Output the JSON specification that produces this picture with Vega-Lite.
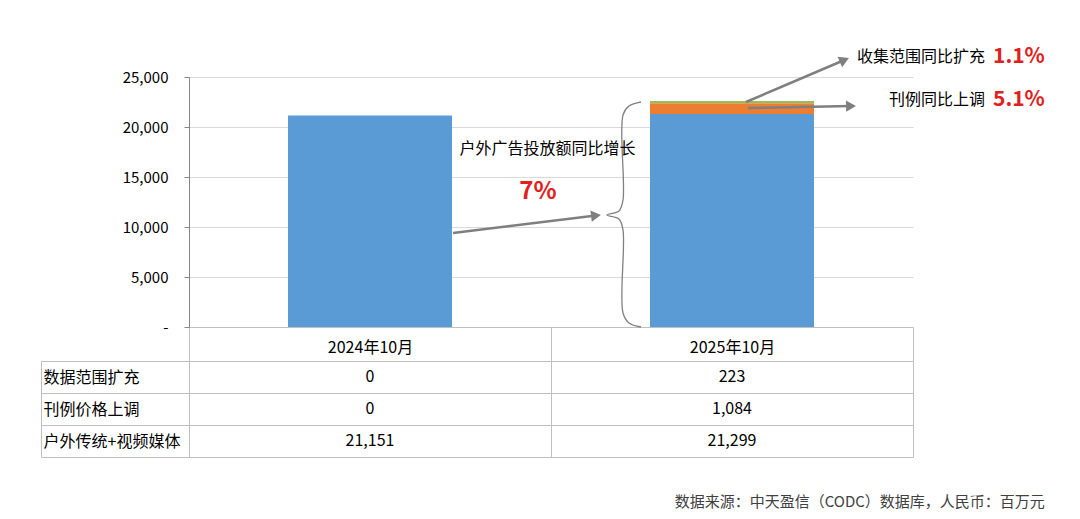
{
  "$schema": "https://vega.github.io/schema/vega-lite/v6.json",
  "autosize": {"type": "pad"},
  "padding": {"left": 40, "top": 45, "right": 5, "bottom": 5},
  "background": "white",
  "bounds": "flush",
  "spacing": 34,
  "config": {"font": "Noto Sans CJK SC", "view": {"stroke": null}},
  "title": {"text": "数据来源：中天盈信（CODC）数据库，人民币：百万元", "orient": "bottom", "anchor": "end", "fontSize": 15, "fontWeight": "normal", "color": "#404040", "offset": 37, "baseline": "top"},
  "datasets": {
    "bars": [
      {"period": "2024年10月", "series": "户外传统+视频媒体", "value": 21151},
      {"period": "2024年10月", "series": "刊例价格上调", "value": 0},
      {"period": "2024年10月", "series": "数据范围扩充", "value": 0},
      {"period": "2025年10月", "series": "户外传统+视频媒体", "value": 21299},
      {"period": "2025年10月", "series": "刊例价格上调", "value": 1084},
      {"period": "2025年10月", "series": "数据范围扩充", "value": 223}
    ],
    "notes": [
      {"kind": "r", "text": "收集范围同比扩充", "pos": 2.199, "val": 27000},
      {"kind": "r", "text": "刊例同比上调", "pos": 2.199, "val": 22700},
      {"kind": "p", "text": "1.1%", "pos": 2.221, "val": 27000},
      {"kind": "p", "text": "5.1%", "pos": 2.221, "val": 22700},
      {"kind": "c", "text": "户外广告投放额同比增长", "pos": 0.9903, "val": 17800},
      {"kind": "b", "text": "7%", "pos": 0.9641, "val": 13500}
    ],
    "lines": [
      {"shape": "brace", "seq": 1, "pos": 1.2486, "val": 22500},
      {"shape": "brace", "seq": 2, "pos": 1.2155, "val": 22100},
      {"shape": "brace", "seq": 3, "pos": 1.1989, "val": 21200},
      {"shape": "brace", "seq": 4, "pos": 1.1989, "val": 12700},
      {"shape": "brace", "seq": 5, "pos": 1.1878, "val": 11600},
      {"shape": "brace", "seq": 6, "pos": 1.1547, "val": 11200},
      {"shape": "brace", "seq": 7, "pos": 1.1878, "val": 10800},
      {"shape": "brace", "seq": 8, "pos": 1.1989, "val": 9700},
      {"shape": "brace", "seq": 9, "pos": 1.1989, "val": 1400},
      {"shape": "brace", "seq": 10, "pos": 1.2155, "val": 400},
      {"shape": "brace", "seq": 11, "pos": 1.2486, "val": 0},
      {"shape": "a1", "seq": 1, "pos": 1.5387, "val": 22500},
      {"shape": "a1", "seq": 2, "pos": 1.8105, "val": 26700},
      {"shape": "a2", "seq": 1, "pos": 1.544, "val": 21900},
      {"shape": "a2", "seq": 2, "pos": 1.8287, "val": 22100},
      {"shape": "a3", "seq": 1, "pos": 0.7293, "val": 9400},
      {"shape": "a3", "seq": 2, "pos": 1.1243, "val": 11140}
    ]
  },
  "vconcat": [
    {
      "width": 724,
      "height": 250,
      "resolve": {"scale": {"x": "independent"}},
      "layer": [
        {
          "data": {"name": "bars"},
          "transform": [{"calculate": "indexof(['户外传统+视频媒体', '刊例价格上调', '数据范围扩充'], datum.series)", "as": "stackRank"}],
          "mark": {"type": "bar", "width": {"band": 0.453}},
          "encoding": {
            "x": {"field": "period", "type": "nominal", "scale": {"paddingInner": 0, "paddingOuter": 0},
              "axis": {"title": null, "orient": "bottom", "labelAngle": 0, "labelFontSize": 16, "labelColor": "#000", "labelBaseline": "middle", "labelPadding": -14, "tickBand": "extent", "tickSize": 34, "tickColor": "#bfbfbf", "domainColor": "#bfbfbf", "grid": false}},
            "y": {"field": "value", "type": "quantitative", "stack": "zero", "scale": {"domain": [0, 25000], "nice": false},
              "axis": {"title": null, "values": [0, 5000, 10000, 15000, 20000, 25000], "labelExpr": "datum.value === 0 ? '-\u00a0\u00a0\u00a0' : format(datum.value, ',')", "labelFontSize": 15, "labelColor": "#000", "labelPadding": 16, "tickSize": 5, "tickColor": "#868686", "domainColor": "#868686", "grid": true, "gridColor": "#d9d9d9"}},
            "color": {"field": "series", "type": "nominal",
              "scale": {"domain": ["户外传统+视频媒体", "刊例价格上调", "数据范围扩充"], "range": ["#5b9bd5", "#ed7d31", "#9bbb59"]}, "legend": null},
            "order": {"field": "stackRank", "type": "quantitative", "sort": "ascending"}
          }
        },
        {
          "data": {"name": "lines"},
          "transform": [{"filter": "datum.shape === 'brace'"}],
          "mark": {"type": "line", "interpolate": "catmull-rom", "stroke": "#808080", "strokeWidth": 1.3, "clip": false},
          "encoding": {
            "x": {"field": "pos", "type": "quantitative", "scale": {"domain": [0, 2], "nice": false, "zero": false}, "axis": null},
            "y": {"field": "val", "type": "quantitative", "scale": {"domain": [0, 25000], "nice": false}, "title": null},
            "order": {"field": "seq", "type": "quantitative"}
          }
        },
        {
          "data": {"name": "lines"},
          "transform": [{"filter": "datum.shape !== 'brace'"}],
          "mark": {"type": "line", "stroke": "#7f7f7f", "strokeWidth": 2.5, "clip": false},
          "encoding": {
            "x": {"field": "pos", "type": "quantitative", "scale": {"domain": [0, 2], "nice": false, "zero": false}, "axis": null},
            "y": {"field": "val", "type": "quantitative", "scale": {"domain": [0, 25000], "nice": false}, "title": null},
            "detail": {"field": "shape"},
            "order": {"field": "seq", "type": "quantitative"}
          }
        },
        {
          "data": {"name": "lines"},
          "transform": [{"filter": "datum.shape === 'a1' && datum.seq === 2"}],
          "mark": {"type": "point", "shape": "triangle-right", "filled": true, "color": "#7f7f7f", "opacity": 1, "size": 130, "angle": 337, "clip": false},
          "encoding": {
            "x": {"field": "pos", "type": "quantitative", "scale": {"domain": [0, 2], "nice": false, "zero": false}, "axis": null},
            "y": {"field": "val", "type": "quantitative", "scale": {"domain": [0, 25000], "nice": false}, "title": null}
          }
        },
        {
          "data": {"name": "lines"},
          "transform": [{"filter": "datum.shape === 'a2' && datum.seq === 2"}],
          "mark": {"type": "point", "shape": "triangle-right", "filled": true, "color": "#7f7f7f", "opacity": 1, "size": 130, "angle": 359, "clip": false},
          "encoding": {
            "x": {"field": "pos", "type": "quantitative", "scale": {"domain": [0, 2], "nice": false, "zero": false}, "axis": null},
            "y": {"field": "val", "type": "quantitative", "scale": {"domain": [0, 25000], "nice": false}, "title": null}
          }
        },
        {
          "data": {"name": "lines"},
          "transform": [{"filter": "datum.shape === 'a3' && datum.seq === 2"}],
          "mark": {"type": "point", "shape": "triangle-right", "filled": true, "color": "#7f7f7f", "opacity": 1, "size": 130, "angle": 353, "clip": false},
          "encoding": {
            "x": {"field": "pos", "type": "quantitative", "scale": {"domain": [0, 2], "nice": false, "zero": false}, "axis": null},
            "y": {"field": "val", "type": "quantitative", "scale": {"domain": [0, 25000], "nice": false}, "title": null}
          }
        },
        {
          "data": {"name": "notes"},
          "transform": [{"filter": "datum.kind === 'r'"}],
          "mark": {"type": "text", "align": "right", "baseline": "middle", "fontSize": 16, "color": "#000", "clip": false},
          "encoding": {
            "x": {"field": "pos", "type": "quantitative", "scale": {"domain": [0, 2], "nice": false, "zero": false}, "axis": null},
            "y": {"field": "val", "type": "quantitative", "scale": {"domain": [0, 25000], "nice": false}, "title": null},
            "text": {"field": "text"}
          }
        },
        {
          "data": {"name": "notes"},
          "transform": [{"filter": "datum.kind === 'p'"}],
          "mark": {"type": "text", "align": "left", "baseline": "middle", "fontSize": 21, "fontWeight": "bold", "color": "#e0201c", "clip": false},
          "encoding": {
            "x": {"field": "pos", "type": "quantitative", "scale": {"domain": [0, 2], "nice": false, "zero": false}, "axis": null},
            "y": {"field": "val", "type": "quantitative", "scale": {"domain": [0, 25000], "nice": false}, "title": null},
            "text": {"field": "text"}
          }
        },
        {
          "data": {"name": "notes"},
          "transform": [{"filter": "datum.kind === 'c'"}],
          "mark": {"type": "text", "align": "center", "baseline": "middle", "fontSize": 16, "color": "#000", "clip": false},
          "encoding": {
            "x": {"field": "pos", "type": "quantitative", "scale": {"domain": [0, 2], "nice": false, "zero": false}, "axis": null},
            "y": {"field": "val", "type": "quantitative", "scale": {"domain": [0, 25000], "nice": false}, "title": null},
            "text": {"field": "text"}
          }
        },
        {
          "data": {"name": "notes"},
          "transform": [{"filter": "datum.kind === 'b'"}],
          "mark": {"type": "text", "align": "center", "baseline": "middle", "fontSize": 24, "fontWeight": "bold", "color": "#e0201c", "clip": false},
          "encoding": {
            "x": {"field": "pos", "type": "quantitative", "scale": {"domain": [0, 2], "nice": false, "zero": false}, "axis": null},
            "y": {"field": "val", "type": "quantitative", "scale": {"domain": [0, 25000], "nice": false}, "title": null},
            "text": {"field": "text"}
          }
        }
      ]
    },
    {
      "width": 724,
      "height": 96,
      "data": {"name": "bars"},
      "resolve": {"axis": {"y": "independent"}},
      "layer": [
        {
          "mark": {"type": "text", "fontSize": 16, "color": "#000", "baseline": "middle"},
          "encoding": {
            "x": {"field": "period", "type": "nominal", "scale": {"paddingInner": 0, "paddingOuter": 0},
              "axis": {"orient": "top", "title": null, "labels": false, "ticks": false, "domain": false, "grid": true, "gridColor": "#bfbfbf", "tickBand": "extent"}},
            "y": {"field": "series", "type": "nominal", "sort": ["数据范围扩充", "刊例价格上调", "户外传统+视频媒体"], "scale": {"paddingInner": 0, "paddingOuter": 0},
              "axis": {"orient": "left", "title": null, "labelAlign": "left", "labelFontSize": 16, "labelColor": "#000", "labelPadding": -2, "tickBand": "extent", "tickSize": 148, "tickColor": "#bfbfbf", "domainColor": "#bfbfbf", "grid": true, "gridColor": "#bfbfbf"}},
            "text": {"field": "value", "type": "quantitative", "format": ","}
          }
        },
        {
          "mark": {"type": "text", "opacity": 0},
          "encoding": {
            "y": {"field": "series", "type": "nominal", "sort": ["数据范围扩充", "刊例价格上调", "户外传统+视频媒体"], "scale": {"paddingInner": 0, "paddingOuter": 0},
              "axis": {"orient": "left", "offset": 148, "title": null, "labels": false, "ticks": false, "grid": false, "domainColor": "#bfbfbf"}},
            "text": {"value": ""}
          }
        }
      ]
    }
  ]
}
